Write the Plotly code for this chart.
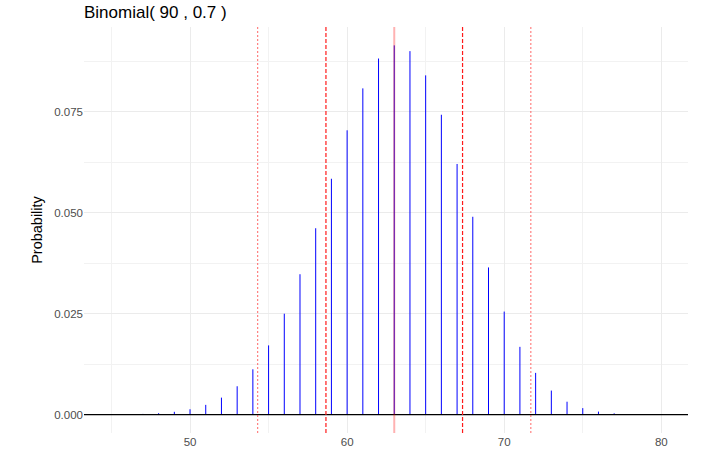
import plotly.graph_objects as go

# Binomial(90, 0.7) probabilities
successes = list(range(45, 81))
probability = [
    0.00003, 0.00007, 0.00016, 0.00034, 0.00068, 0.00131, 0.00240, 0.00419,
    0.00701, 0.01121, 0.01713, 0.02498, 0.03476, 0.04615, 0.05841, 0.07041,
    0.08080, 0.08819, 0.09145, 0.09002, 0.08402, 0.07426, 0.06207, 0.04899,
    0.03644, 0.02551, 0.01677, 0.01032, 0.00594, 0.00318, 0.00159, 0.00073,
    0.00031, 0.00012, 0.00004, 0.00001,
]

mean_line = 63.0
sd_lines = [58.652, 67.348]
two_sd_lines = [54.305, 71.695]

# segments from 0 up to each probability
seg_x, seg_y = [], []
for k, p in zip(successes, probability):
    seg_x += [k, k, None]
    seg_y += [0, p, None]

fig = go.Figure()
fig.add_trace(go.Scatter(
    x=seg_x, y=seg_y, mode='lines',
    line=dict(color='blue', width=1),
    hoverinfo='skip', showlegend=False
))

fig.add_hline(y=0, line=dict(color='black', width=1.2), layer='above')
fig.add_vline(x=mean_line, line=dict(color='rgba(255,0,0,0.3)', width=2), layer='above')
for v in sd_lines:
    fig.add_vline(x=v, line=dict(color='#FF1A1A', width=1.2, dash='4px,2px'), layer='above')
for v in two_sd_lines:
    fig.add_vline(x=v, line=dict(color='rgba(255,60,60,0.7)', width=1.1, dash='2px,2px'), layer='above')

fig.update_layout(
    width=707, height=457,
    margin=dict(l=84, r=19, t=27, b=24),
    plot_bgcolor='white', paper_bgcolor='white',
    font=dict(family='Liberation Sans, Arial, sans-serif', color='black'),
    title=dict(
        text='Binomial( 90 , 0.7 )',
        xref='container', yref='container',
        x=84 / 707, xanchor='left',
        y=1 - 12 / 457, yanchor='middle',
        font=dict(size=17, color='black')
    ),
    xaxis=dict(
        range=[43.25, 81.7], automargin=False,
        tickmode='array', tickvals=[50, 60, 70, 80],
        showgrid=True, gridcolor='#EBEBEB', gridwidth=1.3,
        minor=dict(tickmode='array', tickvals=[45, 55, 65, 75],
                   showgrid=True, gridcolor='#F2F2F2', gridwidth=0.7),
        zeroline=False, showline=False, ticks='',
        tickfont=dict(size=11.5, color='#4D4D4D'),
    ),
    yaxis=dict(
        range=[-0.00457, 0.0960], automargin=False,
        tickmode='array', tickvals=[0, 0.025, 0.05, 0.075],
        ticktext=['0.000', '0.025', '0.050', '0.075'],
        showgrid=True, gridcolor='#EBEBEB', gridwidth=1.3,
        minor=dict(tickmode='array', tickvals=[0.0125, 0.0375, 0.0625, 0.0875],
                   showgrid=True, gridcolor='#F2F2F2', gridwidth=0.7),
        zeroline=False, showline=False, ticks='',
        tickfont=dict(size=11.5, color='#4D4D4D'),
        title=dict(text='Probability', font=dict(size=14.5, color='black'), standoff=8),
    ),
)

# drop the page's default body margin so the figure sits at the window corner
fig.write_html("out.html", config={'displayModeBar': False},
               post_script="document.body.style.margin='0';")
